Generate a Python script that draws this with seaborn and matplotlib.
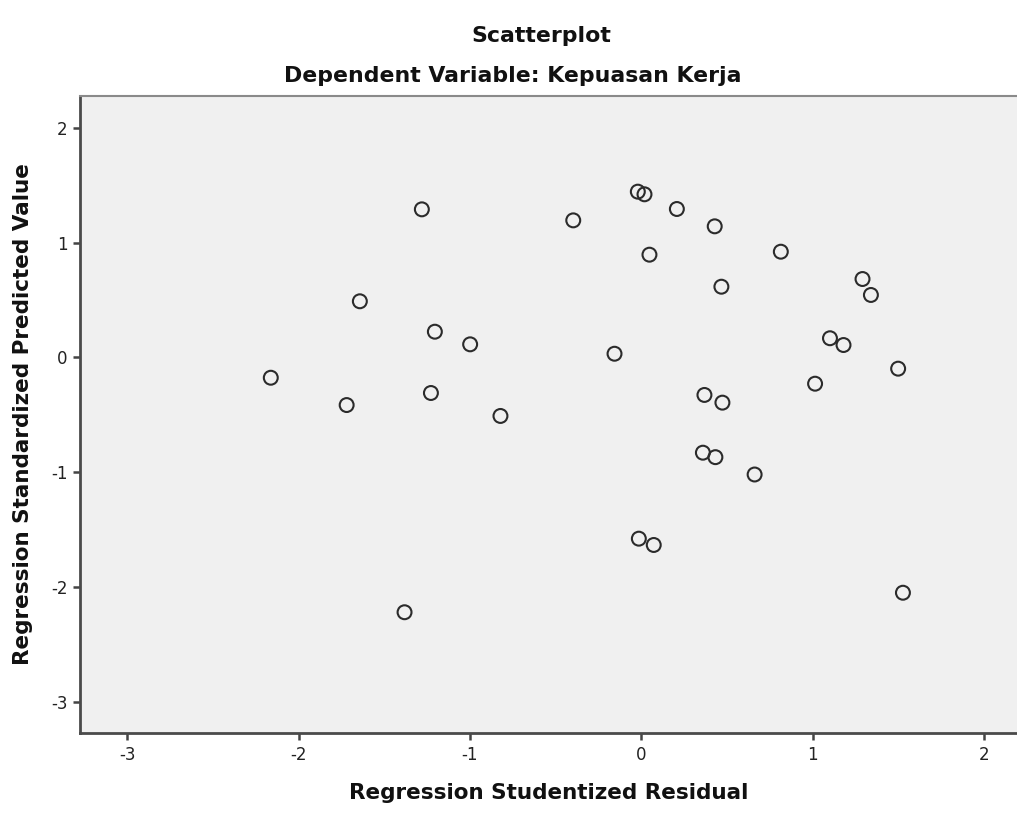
import matplotlib
matplotlib.use("Agg")
import matplotlib.pyplot as plt
import seaborn as sns
import pandas as pd

residual = [-2.163, -1.720, -1.643, -1.382, -1.281, -1.205, -1.228, -0.999, -0.822,
            -0.397, -0.156, -0.020, 0.019, 0.208, 0.048, 0.429, 0.468, 0.815,
            0.369, 0.474, 0.360, 0.433, 0.662, -0.014, 0.073, 1.015, 1.102,
            1.181, 1.292, 1.341, 1.500, 1.528]
predicted = [-0.178, -0.416, 0.488, -2.221, 1.289, 0.223, -0.311, 0.113, -0.511,
             1.193, 0.031, 1.443, 1.420, 1.292, 0.894, 1.141, 0.615, 0.920,
             -0.328, -0.395, -0.831, -0.870, -1.021, -1.580, -1.635, -0.230, 0.166,
             0.107, 0.682, 0.543, -0.099, -2.051]
x_ticks = [-3, -2, -1, 0, 1, 2]
y_ticks = [-3, -2, -1, 0, 1, 2]

df = pd.DataFrame({"Regression Studentized Residual": residual,
                   "Regression Standardized Predicted Value": predicted})

sns.set_theme(style="white")
plt.rcParams['font.family'] = ['DejaVu Sans']

W, H = 1017, 813
fig = plt.figure(figsize=(W / 100, H / 100), dpi=100)
fig.patch.set_facecolor("white")
left_px, right_px, top_px, bottom_px = 80, 1017, 95.7, 733
ax = fig.add_axes([left_px / W, (H - bottom_px) / H,
                   (right_px - left_px) / W, (bottom_px - top_px) / H])
ax.set_facecolor("#F0F0F0")

sns.scatterplot(data=df, x="Regression Studentized Residual",
                y="Regression Standardized Predicted Value", ax=ax,
                marker="o", s=100, facecolors="none", edgecolor="#2b2b2b",
                linewidth=1.5, legend=False)

ax.set_xlim(-3.277, 2.194)
ax.set_ylim(-3.273, 2.279)
ax.set_xticks(x_ticks)
ax.set_yticks(y_ticks)
ax.set_xticklabels([str(t) for t in x_ticks])
ax.set_yticklabels([str(t) for t in y_ticks])
ax.tick_params(axis="both", which="major", direction="out", length=5, width=1.8,
               color="#444444", labelsize=12, labelcolor="#222222", pad=4,
               bottom=True, left=True)

for side in ["left", "bottom"]:
    ax.spines[side].set_color("#4a4a4a")
    ax.spines[side].set_linewidth(2)
ax.spines["top"].set_color("#8a8a8a")
ax.spines["top"].set_linewidth(1.5)
ax.spines["right"].set_visible(False)

ax.set_xlabel("Regression Studentized Residual", fontsize=15.5, fontweight="bold",
              color="#111111", labelpad=14)
ax.set_ylabel("Regression Standardized Predicted Value", fontsize=15.5,
              fontweight="bold", color="#111111", labelpad=13)

fig.text(541 / W, 1 - 36 / H, "Scatterplot", ha="center", va="center",
         fontsize=15.8, fontweight="bold", color="#111111")
fig.text(513 / W, 1 - 76 / H, "Dependent Variable: Kepuasan Kerja", ha="center",
         va="center", fontsize=15.8, fontweight="bold", color="#111111")

fig.savefig("out.png", dpi=100)
